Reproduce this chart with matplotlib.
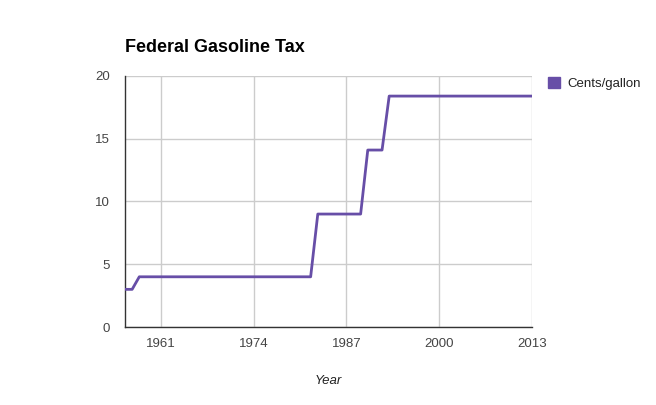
import matplotlib.pyplot as plt
from matplotlib.patches import Patch

years = [1956, 1957, 1958, 1982, 1983, 1989, 1990, 1992, 1993, 2013]
cents = [3, 3, 4, 4, 9, 9, 14.1, 14.1, 18.4, 18.4]
xticks = [1961, 1974, 1987, 2000, 2013]
yticks = [0, 5, 10, 15, 20]

plt.rcParams['font.family'] = ['Liberation Sans', 'DejaVu Sans']

fig = plt.figure(figsize=(6.56, 4.05), dpi=100)
ax = fig.add_axes([125 / 656, 1 - 327 / 405, 407 / 656, 251 / 405])

ax.plot(years, cents, color='#674ea7', linewidth=2, zorder=3)

ax.set_xlim(1956, 2013)
ax.set_ylim(0, 20)
ax.set_xticks(xticks)
ax.set_yticks(yticks)
ax.grid(True, color='#cccccc', linewidth=1)
ax.set_axisbelow(True)
ax.tick_params(length=0, labelsize=9.5, labelcolor='#444444')
ax.tick_params(axis='x', pad=8)
ax.tick_params(axis='y', pad=11)

for side in ['top', 'right']:
    ax.spines[side].set_visible(False)
for side in ['left', 'bottom']:
    ax.spines[side].set_color('#333333')
    ax.spines[side].set_linewidth(1)

ax.set_xlabel('Year', fontsize=9.5, style='italic', color='#222222', labelpad=18)
fig.text(125 / 656, 1 - 47 / 405, 'Federal Gasoline Tax', fontsize=13,
         fontweight='bold', va='center', ha='left')

ax.legend(handles=[Patch(color='#674ea7', label='Cents/gallon')],
          loc='upper left', bbox_to_anchor=(1.01, 1.045), frameon=False,
          fontsize=9.5, handlelength=0.9, handleheight=0.9,
          handletextpad=0.6, labelcolor='#222222')

plt.savefig('out.png', dpi=100)
